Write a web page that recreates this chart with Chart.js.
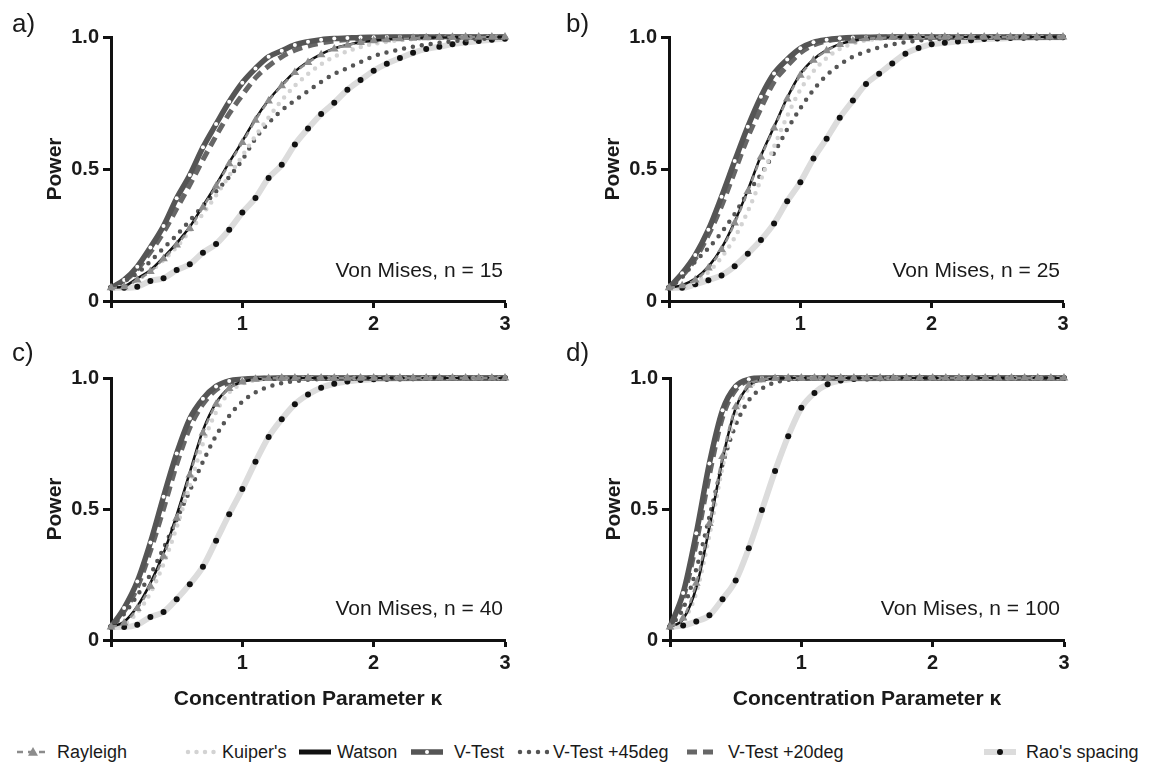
<!DOCTYPE html>
<html>
<head>
<meta charset="utf-8">
<script src="https://cdn.jsdelivr.net/npm/chart.js@4.4.1/dist/chart.umd.min.js"></script>
<style>
  body { margin: 0; background: #fff; width: 1149px; height: 775px; position: relative; overflow: hidden;
         font-family: "Liberation Sans", Arial, Helvetica, sans-serif; color: #1a1a1a; }
  canvas.panel { position: absolute; }
  .letter { position: absolute; font-size: 26px; line-height: 1; }
  .note { position: absolute; font-size: 21px; line-height: 1; width: 300px; text-align: right; }
  .sw { position: absolute; }
  .legtxt { position: absolute; font-size: 18px; line-height: 1; white-space: nowrap; }
</style>
</head>
<body>
<canvas id="pa" class="panel" width="540" height="340" style="left:0px;top:0px"></canvas>
<canvas id="pb" class="panel" width="540" height="340" style="left:558px;top:0px"></canvas>
<canvas id="pc" class="panel" width="540" height="380" style="left:0px;top:340px"></canvas>
<canvas id="pd" class="panel" width="540" height="380" style="left:559px;top:340px"></canvas>
<div id="extras"></div>

<script>
// x values (kappa) and labels
const kappa = [0,0.1,0.2,0.3,0.4,0.5,0.6,0.7,0.8,0.9,1,1.1,1.2,1.3,1.4,1.5,1.6,1.7,1.8,1.9,2,2.1,2.2,2.3,2.4,2.5,2.6,2.7,2.8,2.9,3];
const xTicks = ['', '1', '2', '3'];
const yTicks = ['0', '0.5', '1.0'];
const seriesNames = ["Rayleigh", "Kuiper's", "Watson", "V-Test", "V-Test +45deg", "V-Test +20deg", "Rao's spacing"];
const panelLetters = ['a)', 'b)', 'c)', 'd)'];
const sampleSizes = [15, 25, 40, 100];

// a) n = 15
const raylA = [0.05,0.054,0.08,0.112,0.16,0.212,0.275,0.355,0.435,0.52,0.6,0.685,0.758,0.815,0.866,0.903,0.933,0.955,0.969,0.979,0.986,0.99,0.993,0.995,0.997,0.998,0.999,1,1,1,1];
const kuipA = [0.05,0.055,0.08,0.112,0.155,0.205,0.265,0.33,0.4,0.475,0.55,0.625,0.695,0.76,0.815,0.86,0.897,0.925,0.946,0.962,0.974,0.982,0.988,0.992,0.995,0.997,0.998,0.999,1,1,1];
const watsA = [0.05,0.055,0.086,0.117,0.165,0.219,0.281,0.36,0.44,0.525,0.605,0.69,0.761,0.818,0.869,0.906,0.935,0.957,0.97,0.98,0.986,0.99,0.993,0.995,0.997,0.998,0.999,1,1,1,1];
const vtA   = [0.05,0.08,0.13,0.203,0.284,0.389,0.477,0.582,0.67,0.755,0.827,0.881,0.925,0.948,0.97,0.982,0.99,0.994,0.996,0.998,0.999,1,1,1,1,1,1,1,1,1,1];
const vt45A = [0.05,0.075,0.105,0.15,0.2,0.25,0.305,0.36,0.415,0.47,0.535,0.615,0.675,0.722,0.76,0.795,0.83,0.86,0.882,0.905,0.927,0.942,0.953,0.963,0.971,0.978,0.984,0.988,0.992,0.995,0.997];
const vt20A = [0.05,0.075,0.12,0.185,0.26,0.35,0.44,0.535,0.625,0.71,0.78,0.845,0.89,0.925,0.95,0.966,0.977,0.985,0.99,0.994,0.996,0.998,0.999,1,1,1,1,1,1,1,1];
const raoA  = [0.05,0.05,0.054,0.076,0.086,0.117,0.139,0.183,0.216,0.27,0.335,0.39,0.466,0.516,0.593,0.653,0.708,0.751,0.8,0.837,0.872,0.899,0.92,0.94,0.955,0.963,0.973,0.979,0.985,0.99,0.993];

// b) n = 25
const raylB = [0.05,0.058,0.08,0.125,0.195,0.295,0.415,0.545,0.655,0.765,0.855,0.912,0.948,0.972,0.985,0.993,0.997,0.999,1,1,1,1,1,1,1,1,1,1,1,1,1];
const kuipB = [0.05,0.055,0.075,0.11,0.165,0.24,0.34,0.46,0.585,0.7,0.8,0.87,0.92,0.955,0.975,0.987,0.994,0.997,0.999,1,1,1,1,1,1,1,1,1,1,1,1];
const watsB = [0.05,0.06,0.085,0.13,0.2,0.3,0.42,0.55,0.66,0.77,0.86,0.915,0.95,0.973,0.985,0.993,0.997,0.999,1,1,1,1,1,1,1,1,1,1,1,1,1];
const vtB   = [0.05,0.105,0.174,0.27,0.395,0.53,0.66,0.774,0.862,0.915,0.957,0.98,0.99,0.995,0.998,0.999,1,1,1,1,1,1,1,1,1,1,1,1,1,1,1];
const vt45B = [0.05,0.09,0.15,0.2,0.26,0.33,0.41,0.48,0.56,0.65,0.73,0.8,0.855,0.895,0.925,0.945,0.96,0.972,0.98,0.987,0.991,0.994,0.996,0.998,0.999,1,1,1,1,1,1];
const vt20B = [0.05,0.095,0.16,0.25,0.36,0.49,0.62,0.73,0.83,0.89,0.94,0.97,0.985,0.992,0.996,0.998,0.999,1,1,1,1,1,1,1,1,1,1,1,1,1,1];
const raoB  = [0.05,0.05,0.063,0.079,0.097,0.132,0.179,0.231,0.294,0.378,0.45,0.54,0.615,0.694,0.759,0.822,0.861,0.9,0.937,0.958,0.973,0.978,0.983,0.988,0.992,0.994,0.996,0.997,0.998,0.999,0.999];

// c) n = 40
const raylC = [0.05,0.065,0.12,0.205,0.32,0.465,0.63,0.79,0.9,0.96,0.985,0.995,0.998,1,1,1,1,1,1,1,1,1,1,1,1,1,1,1,1,1,1];
const kuipC = [0.05,0.06,0.105,0.18,0.29,0.43,0.59,0.75,0.87,0.945,0.978,0.992,0.997,0.999,1,1,1,1,1,1,1,1,1,1,1,1,1,1,1,1,1];
const watsC = [0.05,0.07,0.128,0.217,0.331,0.477,0.64,0.8,0.905,0.962,0.985,0.995,0.998,1,1,1,1,1,1,1,1,1,1,1,1,1,1,1,1,1,1];
const vtC   = [0.05,0.122,0.223,0.372,0.547,0.712,0.845,0.921,0.968,0.989,0.995,0.998,0.999,1,1,1,1,1,1,1,1,1,1,1,1,1,1,1,1,1,1];
const vt45C = [0.05,0.1,0.17,0.25,0.35,0.46,0.57,0.68,0.78,0.855,0.91,0.945,0.967,0.98,0.988,0.993,0.996,0.998,0.999,1,1,1,1,1,1,1,1,1,1,1,1];
const vt20C = [0.05,0.11,0.2,0.34,0.5,0.67,0.81,0.9,0.955,0.982,0.993,0.997,0.999,1,1,1,1,1,1,1,1,1,1,1,1,1,1,1,1,1,1];
const raoC  = [0.05,0.05,0.058,0.088,0.107,0.156,0.213,0.28,0.379,0.48,0.576,0.68,0.775,0.843,0.9,0.937,0.963,0.978,0.987,0.992,0.995,0.997,0.998,0.999,1,1,1,1,1,1,1];

// d) n = 100
const raylD = [0.05,0.084,0.217,0.445,0.7,0.89,0.972,0.993,0.998,1,1,1,1,1,1,1,1,1,1,1,1,1,1,1,1,1,1,1,1,1,1];
const kuipD = [0.05,0.075,0.18,0.4,0.66,0.86,0.96,0.99,0.998,1,1,1,1,1,1,1,1,1,1,1,1,1,1,1,1,1,1,1,1,1,1];
const watsD = [0.05,0.08,0.2,0.43,0.69,0.885,0.97,0.992,0.998,1,1,1,1,1,1,1,1,1,1,1,1,1,1,1,1,1,1,1,1,1,1];
const vtD   = [0.05,0.179,0.407,0.674,0.877,0.968,0.995,1,1,1,1,1,1,1,1,1,1,1,1,1,1,1,1,1,1,1,1,1,1,1,1];
const vt45D = [0.05,0.12,0.27,0.47,0.67,0.82,0.915,0.96,0.983,0.993,0.997,0.999,1,1,1,1,1,1,1,1,1,1,1,1,1,1,1,1,1,1,1];
const vt20D = [0.05,0.16,0.37,0.63,0.85,0.955,0.99,0.998,1,1,1,1,1,1,1,1,1,1,1,1,1,1,1,1,1,1,1,1,1,1,1];
const raoD  = [0.05,0.055,0.071,0.094,0.156,0.227,0.35,0.496,0.645,0.778,0.886,0.943,0.976,0.99,0.996,0.998,0.999,1,1,1,1,1,1,1,1,1,1,1,1,1,1];

const panelData = [
  [raylA, kuipA, watsA, vtA, vt45A, vt20A, raoA],
  [raylB, kuipB, watsB, vtB, vt45B, vt20B, raoB],
  [raylC, kuipC, watsC, vtC, vt45C, vt20C, raoC],
  [raylD, kuipD, watsD, vtD, vt45D, vt20D, raoD]
];

// look of each series (order: lower = drawn on top)
const looks = [
  { color: '#8c8c8c', width: 2.5, dash: [6, 5],  cap: 'butt',  point: 'triangle', radius: 5, fill: '#8c8c8c', order: 0 },
  { color: '#d3d3d3', width: 4.5, dash: [0, 8.5], cap: 'round', point: 'circle',  radius: 0, fill: '#d3d3d3', order: 2 },
  { color: '#111111', width: 2.5, dash: [],      cap: 'butt',  point: 'circle',   radius: 0, fill: '#111111', order: 1 },
  { color: '#555555', width: 5.5, dash: [],      cap: 'butt',  point: 'circle',   radius: 2, fill: '#ffffff', order: 4 },
  { color: '#555555', width: 4.5, dash: [0, 9],  cap: 'round', point: 'circle',   radius: 0, fill: '#555555', order: 3 },
  { color: '#666666', width: 5,   dash: [10, 6], cap: 'butt',  point: 'circle',   radius: 0, fill: '#666666', order: 5 },
  { color: '#dcdcdc', width: 6,   dash: [],      cap: 'butt',  point: 'circle',   radius: 3, fill: '#111111', order: 6 }
];

const FONT = '"Liberation Sans", Arial, Helvetica, sans-serif';
const INK = '#1a1a1a';

function makeChart(id, vals, bottomRow) {
  const datasets = seriesNames.map((name, i) => ({
    label: name,
    data: kappa.map((k, j) => ({ x: k, y: vals[i][j] })),
    borderColor: looks[i].color,
    borderWidth: looks[i].width,
    borderDash: looks[i].dash,
    borderCapStyle: looks[i].cap,
    pointStyle: looks[i].point,
    pointRadius: looks[i].radius,
    pointBackgroundColor: looks[i].fill,
    pointBorderWidth: 0,
    cubicInterpolationMode: 'monotone',
    fill: false,
    clip: false,
    order: looks[i].order
  }));

  const tickFont = { family: FONT, size: 20, weight: 'bold' };
  return new Chart(document.getElementById(id), {
    type: 'line',
    data: { datasets },
    options: {
      responsive: false,
      animation: false,
      devicePixelRatio: 1,
      events: [],
      layout: { padding: { top: bottomRow ? 38 : 37, right: 35, left: 0, bottom: 0 } },
      plugins: { legend: { display: false }, tooltip: { enabled: false } },
      scales: {
        x: {
          type: 'linear', min: 0, max: 3,
          afterFit: s => { s.height = bottomRow ? 80 : 39; },
          border: { display: true, color: '#111', width: 3 },
          grid: { display: true, drawOnChartArea: false, drawTicks: true, tickLength: 7, tickWidth: 3, tickColor: '#111' },
          ticks: { stepSize: 1, autoSkip: false, maxRotation: 0, color: INK, font: tickFont, padding: 4,
                   callback: (v, i) => xTicks[i] },
          title: { display: bottomRow, text: 'Concentration Parameter \u03ba', color: INK,
                   font: { family: FONT, size: 21, weight: 'bold' }, padding: { top: 0, bottom: 8 } }
        },
        y: {
          min: 0, max: 1,
          afterFit: s => { s.width = 111; },
          border: { display: true, color: '#111', width: 3 },
          grid: { display: true, drawOnChartArea: false, drawTicks: true, tickLength: 8, tickWidth: 3, tickColor: '#111' },
          ticks: { stepSize: 0.5, color: INK, font: tickFont, padding: 4,
                   callback: (v, i) => yTicks[i] },
          title: { display: true, text: 'Power', color: INK,
                   font: { family: FONT, size: 21, weight: 'bold' }, padding: { top: 43, bottom: 0 } }
        }
      }
    }
  });
}

makeChart('pa', panelData[0], false);
makeChart('pb', panelData[1], false);
makeChart('pc', panelData[2], true);
makeChart('pd', panelData[3], true);

// panel letters and annotations
const extras = document.getElementById('extras');
const letterPos = [[12, 10], [566, 10], [12, 339], [566, 339]];
const notePos = [[203, 259], [760, 259], [203, 597], [760, 597]];
panelLetters.forEach((t, i) => {
  const d = document.createElement('div');
  d.className = 'letter';
  d.style.left = letterPos[i][0] + 'px';
  d.style.top = letterPos[i][1] + 'px';
  d.textContent = t;
  extras.appendChild(d);
  const n = document.createElement('div');
  n.className = 'note';
  n.style.left = notePos[i][0] + 'px';
  n.style.top = notePos[i][1] + 'px';
  n.textContent = 'Von Mises, n = ' + sampleSizes[i];
  extras.appendChild(n);
});

// legend row
const legSwatchX = [16, 183, 298, 410, 515, 686, 983];
const legTextX = [57, 222, 337, 454, 553, 728, 1026];
const legendY = 752;
seriesNames.forEach((name, i) => {
  const c = document.createElement('canvas');
  c.className = 'sw';
  c.width = 34; c.height = 16;
  c.style.left = legSwatchX[i] + 'px';
  c.style.top = (legendY - 8) + 'px';
  extras.appendChild(c);
  const g = c.getContext('2d');
  const lk = looks[i];
  g.strokeStyle = lk.color;
  g.lineWidth = i === 2 ? 5 : lk.width;
  g.lineCap = lk.cap;
  g.setLineDash(lk.dash);
  g.beginPath();
  const x0 = lk.cap === 'round' ? 5 : 1;
  g.moveTo(x0, 8); g.lineTo(33, 8);
  g.stroke();
  if (lk.radius > 0) {
    g.setLineDash([]);
    g.fillStyle = lk.fill;
    g.beginPath();
    if (lk.point === 'triangle') {
      const r = lk.radius;
      g.moveTo(17, 8 - r); g.lineTo(17 + r, 8 + r * 0.75); g.lineTo(17 - r, 8 + r * 0.75);
      g.closePath();
    } else {
      g.arc(17, 8, lk.radius, 0, Math.PI * 2);
    }
    g.fill();
  }
  const t = document.createElement('div');
  t.className = 'legtxt';
  t.style.left = legTextX[i] + 'px';
  t.style.top = (legendY - 9) + 'px';
  t.textContent = name;
  extras.appendChild(t);
});
</script>
</body>
</html>
